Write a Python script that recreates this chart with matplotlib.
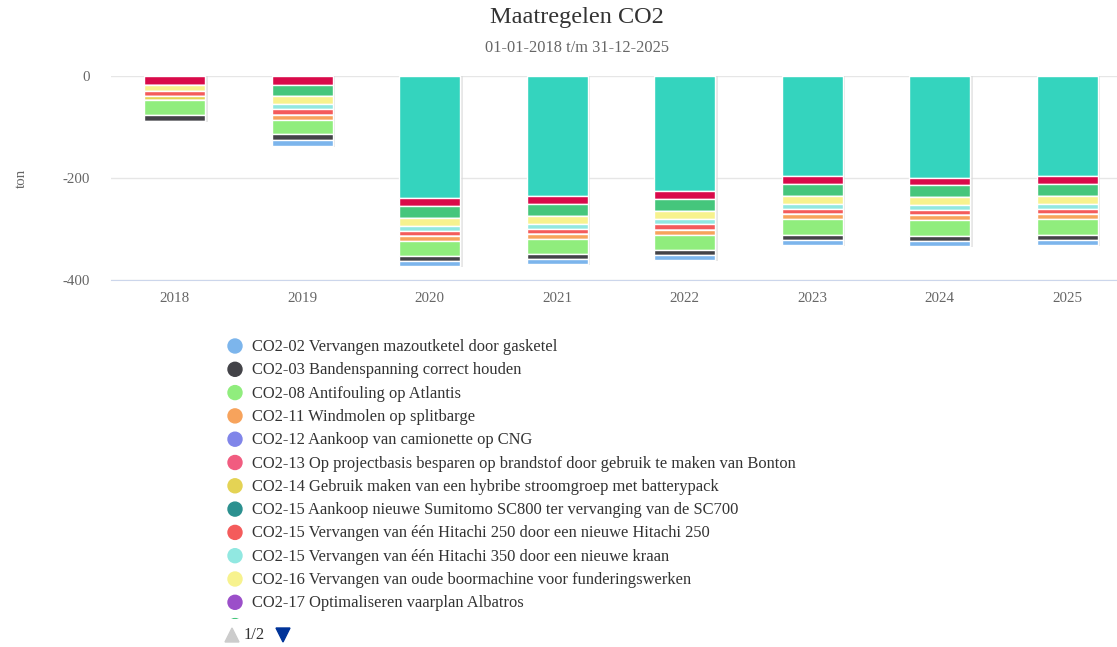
import numpy as np
import matplotlib.pyplot as plt
from matplotlib.patches import Circle, Polygon

plt.rcParams['font.family'] = ['Liberation Serif', 'DejaVu Serif']

# categories
years = ['2018', '2019', '2020', '2021', '2022', '2023', '2024', '2025']

# reductions per measure (ton, shown as negative)
co2_02 = [0, 11.8, 9.8, 9.8, 9.8, 9.8, 9.8, 9.8]
co2_03 = [11.8, 11.8, 9.8, 9.8, 9.8, 9.8, 9.8, 9.8]
co2_08 = [29.4, 27.5, 29.4, 29.4, 29.4, 31.0, 31.0, 31.0]
co2_11 = [0, 9.8, 9.8, 9.8, 9.8, 9.8, 9.8, 9.8]
co2_12 = [0, 0, 0, 0, 0, 0, 0, 0]
co2_13 = [0, 0, 0, 0, 0, 0, 0, 0]
co2_14 = [7.8, 0, 0, 0, 0, 0, 0, 0]
co2_15a = [0, 0, 0, 0, 0, 0, 0, 0]
co2_15b = [9.8, 11.8, 9.8, 9.8, 11.8, 9.8, 9.8, 9.8]
co2_15c = [0, 9.8, 9.8, 9.8, 9.8, 9.8, 9.8, 9.8]
co2_16 = [11.8, 15.7, 15.7, 15.7, 15.7, 15.7, 15.7, 15.7]
co2_17 = [0, 0, 0, 0, 0, 0, 0, 0]
# series on legend page 2
co2_p2a = [0, 21.6, 23.5, 23.5, 23.5, 23.5, 23.5, 23.5]
co2_p2b = [17.6, 17.6, 15.7, 15.7, 15.7, 15.7, 13.7, 15.7]
co2_p2c = [0, 0, 240, 236, 225, 196, 200, 196]

labels = ['CO2-02 Vervangen mazoutketel door gasketel',
          'CO2-03 Bandenspanning correct houden',
          'CO2-08 Antifouling op Atlantis',
          'CO2-11 Windmolen op splitbarge',
          'CO2-12 Aankoop van camionette op CNG',
          'CO2-13 Op projectbasis besparen op brandstof door gebruik te maken van Bonton',
          'CO2-14 Gebruik maken van een hybribe stroomgroep met batterypack',
          'CO2-15 Aankoop nieuwe Sumitomo SC800 ter vervanging van de SC700',
          'CO2-15 Vervangen van één Hitachi 250 door een nieuwe Hitachi 250',
          'CO2-15 Vervangen van één Hitachi 350 door een nieuwe kraan',
          'CO2-16 Vervangen van oude boormachine voor funderingswerken',
          'CO2-17 Optimaliseren vaarplan Albatros']

series = [co2_02, co2_03, co2_08, co2_11, co2_12, co2_13, co2_14, co2_15a,
          co2_15b, co2_15c, co2_16, co2_17, co2_p2a, co2_p2b, co2_p2c]
colors = ['#7cb5ec', '#434348', '#90ed7d', '#f7a35c', '#8085e9', '#f15c80',
          '#e4d354', '#2b908f', '#f45b5b', '#91e8e1', '#f7f28e', '#9b4fc9',
          '#45c67c', '#d90a4a', '#34d4be']

W, H = 1117, 647
fig = plt.figure(figsize=(W / 100, H / 100), dpi=100)
ax = fig.add_axes([111 / W, 1 - 280 / H, 1020 / W, 204 / H])

x = np.arange(len(years))
bw = 0.48

# shadow
totals = np.sum(np.array(series), axis=0)
ax.bar(x + 0.012, -totals - 2, width=bw + 0.012, color='#d8d8d8', alpha=0.6,
       edgecolor='none', zorder=1)

# stack: last series closest to zero
bottom = np.zeros(len(years))
for vals, col in zip(series[::-1], colors[::-1]):
    v = -np.array(vals, dtype=float)
    ax.bar(x, v, bottom=bottom, width=bw, color=col, edgecolor='white',
           linewidth=1, zorder=3)
    bottom = bottom + v

ax.set_xlim(-0.5, len(years) - 0.5)
ax.set_ylim(-400, 0)
ax.set_yticks([0, -200, -400])
ax.set_yticklabels(['0', '-200', '-400'])
ax.set_xticks(x)
ax.set_xticklabels(years)
ax.tick_params(axis='both', length=0, labelsize=10.8, colors='#666666')
ax.tick_params(axis='y', pad=15)
ax.tick_params(axis='x', pad=9)
for s in ['top', 'right', 'left']:
    ax.spines[s].set_visible(False)
ax.spines['bottom'].set_color('#ccd6eb')
ax.grid(axis='y', color='#e6e6e6', linewidth=1, zorder=0)
ax.set_axisbelow(True)
ax.set_ylabel('ton', fontsize=10.8, color='#666666', labelpad=25)

fig.text(577 / W, 1 - 18 / H, 'Maatregelen CO2', ha='center', va='center',
         fontsize=17.5, color='#333333')
fig.text(577 / W, 1 - 48 / H, '01-01-2018 t/m 31-12-2025', ha='center',
         va='center', fontsize=11.8, color='#666666')

# legend area (pixel coordinates)
lg = fig.add_axes([220 / W, 1 - 619 / H, 700 / W, 286 / H])
lg.set_xlim(220, 920)
lg.set_ylim(619, 333)
lg.axis('off')
row_y = [346 + 23.3 * i for i in range(13)]
for i, (lab, col) in enumerate(zip(labels + [''], colors[:13])):
    lg.add_patch(Circle((235, row_y[i]), 7, color=col, clip_on=True))
    if lab:
        lg.text(252, row_y[i] + 1, lab, va='center', ha='left', fontsize=11.9,
                color='#333333')

# pager
pg = fig.add_axes([0, 0, 1, 1])
pg.set_xlim(0, W)
pg.set_ylim(H, 0)
pg.axis('off')
pg.add_patch(Polygon([[225, 642], [239, 642], [232, 628]], color='#cccccc'))
pg.text(244, 635, '1/2', va='center', ha='left', fontsize=11.9, color='#333333')
pg.add_patch(Polygon([[276, 628], [290, 628], [283, 642]], color='#003399'))

fig.savefig('out.png', dpi=100)
